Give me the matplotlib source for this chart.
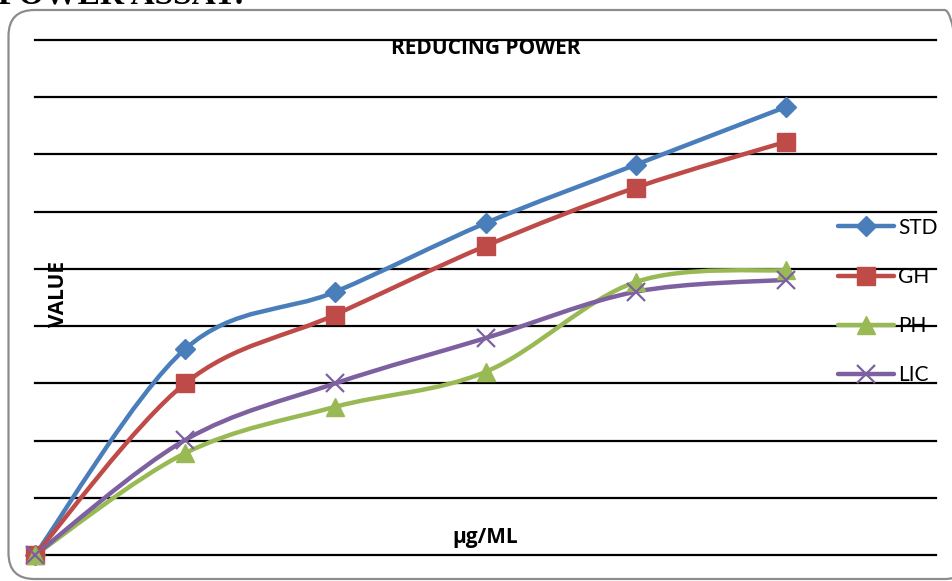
import matplotlib
matplotlib.use("Agg")
import matplotlib.pyplot as plt
from matplotlib.path import Path
from matplotlib.patches import PathPatch, FancyBboxPatch
from matplotlib.lines import Line2D
from matplotlib.transforms import IdentityTransform
import numpy as np

# ---- data ----
concentrations = ["0", "1", "2", "3", "4", "5"]
series_names = ["STD", "GH", "PH", "LIC"]
std_vals = [0.0, 0.360, 0.460, 0.580, 0.682, 0.783]
gh_vals = [0.0, 0.300, 0.420, 0.540, 0.642, 0.722]
ph_vals = [0.0, 0.178, 0.259, 0.320, 0.477, 0.498]
lic_vals = [0.0, 0.201, 0.300, 0.379, 0.460, 0.481]
y_ticks = [0.0, 0.1, 0.2, 0.3, 0.4, 0.5, 0.6, 0.7, 0.8, 0.9]

colors = ["#4A7EBB", "#BE4B48", "#98B954", "#7D60A0"]
markers = ["D", "s", "^", "x"]
msizes = [10.5, 13, 13, 13]

W, H = 952, 581
fig = plt.figure(figsize=(W / 100, H / 100), dpi=100)
fig.patch.set_facecolor("white")

# rounded outer frame (pixel coordinates, origin bottom-left)
frame = FancyBboxPatch((8.5, H - 579), 962, 569,
                       boxstyle="round,pad=0,rounding_size=26",
                       transform=IdentityTransform(), facecolor="none",
                       edgecolor="#8C8C8C", linewidth=1.6)
fig.patches.append(frame)

# cut-off heading at top of page
fig.text(-0.002, 1 - 4 / H, "POWER ASSAY:", family="Liberation Serif",
         fontweight="bold", fontsize=24, va="baseline", ha="left", color="black")

ax = fig.add_axes([35 / W, 1 - 555 / H, (936 - 35) / W, (555 - 40) / H])
ax.set_xlim(0, 6)
ax.set_ylim(0, 0.9)
for s in ax.spines.values():
    s.set_visible(False)
ax.set_xticks([])
ax.set_yticks([])
for yv in y_ticks:
    ax.axhline(yv, color="black", linewidth=1.6, zorder=1, clip_on=False)

x = np.arange(len(concentrations), dtype=float)


def smooth_path(xs, ys, t=1 / 6):
    pts = np.column_stack([xs, ys])
    n = len(pts)
    verts = [pts[0]]
    codes = [Path.MOVETO]
    for i in range(n - 1):
        p0 = pts[i - 1] if i > 0 else pts[i]
        p1 = pts[i]
        p2 = pts[i + 1]
        p3 = pts[i + 2] if i + 2 < n else pts[i + 1]
        c1 = p1 + (p2 - p0) * t
        c2 = p2 - (p3 - p1) * t
        verts += [c1, c2, p2]
        codes += [Path.CURVE4] * 3
    return Path(verts, codes)


all_vals = [std_vals, gh_vals, ph_vals, lic_vals]
handles = []
for name, vals, c, m, ms in zip(series_names, all_vals, colors, markers, msizes):
    patch = PathPatch(smooth_path(x, np.array(vals)), facecolor="none",
                      edgecolor=c, linewidth=3.2, capstyle="round", zorder=3)
    ax.add_patch(patch)
    if m == "x":
        ax.plot(x, vals, linestyle="none", marker=m, markersize=ms,
                markeredgecolor=c, markeredgewidth=1.6, zorder=4, clip_on=False)
    else:
        ax.plot(x, vals, linestyle="none", marker=m, markersize=ms,
                markerfacecolor=c, markeredgecolor=c, zorder=4, clip_on=False)
    handles.append(Line2D([0], [0], color=c, linewidth=3.2, marker=m,
                          markersize=ms, markerfacecolor=c, markeredgecolor=c,
                          markeredgewidth=1.6 if m == "x" else 1.0,
                          solid_capstyle="round"))

leg = fig.legend(handles, series_names, loc="upper left",
                 bbox_to_anchor=(819 / W, 1 - 199 / H), frameon=False,
                 handlelength=2.7, handletextpad=0.2, labelspacing=1.4,
                 prop={"family": "Lato", "size": 15})

bold_font = dict(fontsize=15, fontweight="bold", family="Open Sans")
fig.text(486 / W, 1 - 48 / H, "REDUCING POWER", ha="center", va="center",
         **bold_font)
fig.text(58 / W, 1 - 294 / H, "VALUE", ha="center", va="center",
         rotation=90, **bold_font)
fig.text(485 / W, 1 - 537 / H, "µg/ML", ha="center", va="center",
         **bold_font)

fig.savefig("out.png", dpi=100)
